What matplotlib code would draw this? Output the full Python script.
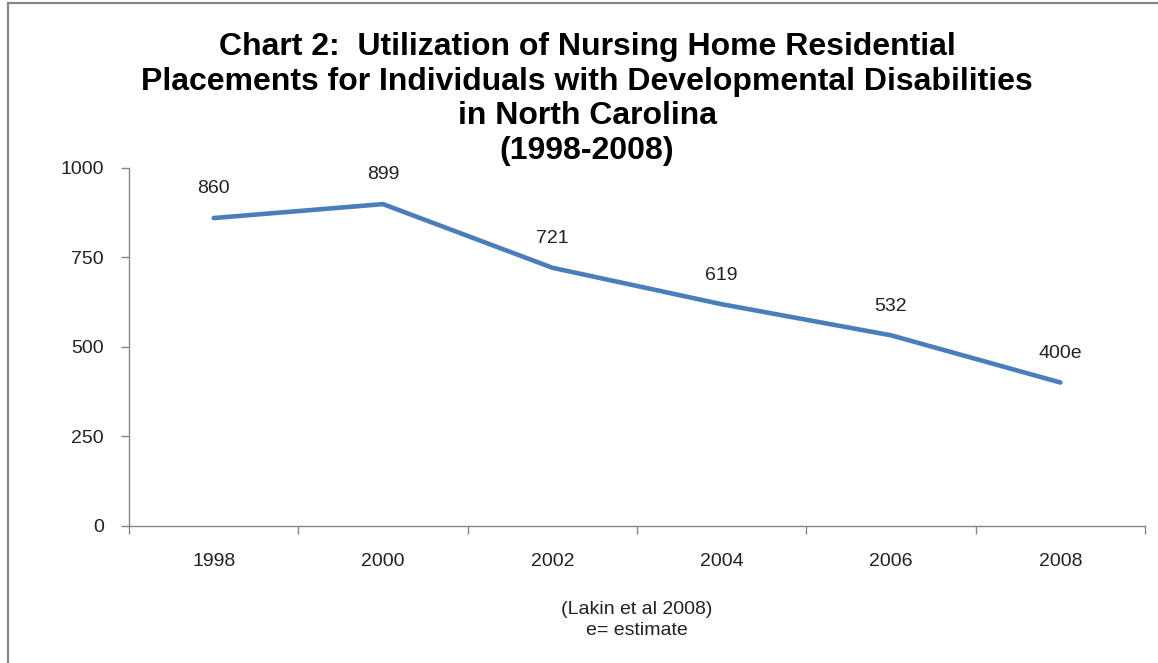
import matplotlib
matplotlib.use("Agg")
import matplotlib.pyplot as plt
from matplotlib.lines import Line2D

years = ["1998", "2000", "2002", "2004", "2006", "2008"]
values = [860, 899, 721, 619, 532, 400]
labels = ["860", "899", "721", "619", "532", "400e"]
yticks = [0, 250, 500, 750, 1000]
title = ("Chart 2:  Utilization of Nursing Home Residential\n"
         "Placements for Individuals with Developmental Disabilities\n"
         "in North Carolina\n(1998-2008)")
caption = "(Lakin et al 2008)\ne= estimate"

plt.rcParams['font.family'] = ['Liberation Sans', 'DejaVu Sans']

W, H = 1158, 663
fig = plt.figure(figsize=(W / 100, H / 100), dpi=100)
fig.patch.set_facecolor("white")

# outer border (left and top visible)
fig.add_artist(Line2D([8 / W, 8 / W], [0, 1 - 3 / H], transform=fig.transFigure,
                      color="#868686", lw=1.6))
fig.add_artist(Line2D([8 / W, 1], [1 - 3 / H, 1 - 3 / H], transform=fig.transFigure,
                      color="#868686", lw=1.6))

left, right = 129 / W, 1145 / W
bottom, top = 1 - 525.5 / H, 1 - 168 / H
ax = fig.add_axes([left, bottom, right - left, top - bottom])

x = list(range(len(years)))
ax.plot(x, values, color="#4A7EBB", lw=3.3, solid_capstyle="round", solid_joinstyle="round")
for xi, v, lab in zip(x, values, labels):
    ax.annotate(lab, (xi, v), xytext=(0, 21), textcoords="offset points",
                ha="center", va="center", fontsize=14, color="#222222")

ax.set_xlim(-0.5, len(years) - 0.5)
ax.set_ylim(0, 1000)
ax.set_yticks(yticks)
ax.set_yticklabels([str(t) for t in yticks])
ax.set_xticks(x)
ax.set_xticklabels(years)
ax.set_xticks([i - 0.5 for i in range(len(years) + 1)], minor=True)

for s in ["top", "right"]:
    ax.spines[s].set_visible(False)
for s in ["left", "bottom"]:
    ax.spines[s].set_color("#868686")
    ax.spines[s].set_linewidth(1.0)

ax.tick_params(axis="y", length=6, width=1.0, color="#868686", labelsize=14,
               labelcolor="#222222", pad=12)
ax.tick_params(axis="x", which="major", length=0, labelsize=14, labelcolor="#222222", pad=20)
ax.tick_params(axis="x", which="minor", length=6, width=1.0, color="#868686")

fig.text(587 / W, 1 - 99 / H, title, ha="center", va="center", fontsize=23,
         fontweight="bold", color="black", linespacing=1.21)
fig.text(637 / W, 1 - 620 / H, caption, ha="center", va="center", fontsize=14,
         color="#222222", linespacing=1.32)

fig.savefig("out.png", dpi=100)
